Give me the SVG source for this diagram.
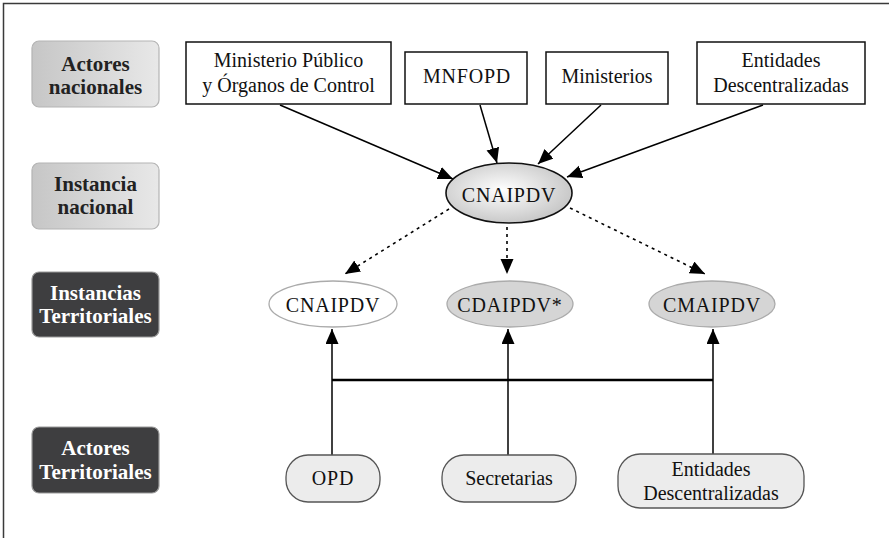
<svg xmlns="http://www.w3.org/2000/svg" width="889" height="538" viewBox="0 0 889 538">
<style>
.frame{fill:none;stroke:#3a3a3a;stroke-width:1.5}
.lbl-light{fill:url(#gLight);stroke:#b4b4b4;stroke-width:1.2}
.lbl-dark{fill:#3e3e40;stroke:#9a9a9a;stroke-width:1.2}
.lt{font-family:"Liberation Serif",serif;font-weight:bold;font-size:21px;text-anchor:middle}
.box{fill:#fff;stroke:#111;stroke-width:1.5}
.t{font-family:"Liberation Serif",serif;font-size:20px;text-anchor:middle;fill:#111}
.ac{letter-spacing:0.8px}
.ell2{stroke:#ababab;stroke-width:1.3}
.pill{fill:#ececec;stroke:#555;stroke-width:1.3}
.ln{stroke:#000;stroke-width:1.5;fill:none}
.dot{stroke:#000;stroke-width:1.6;fill:none;stroke-dasharray:3 4}
</style>
<defs>
<linearGradient id="gLight" x1="0" y1="0" x2="1" y2="0">
<stop offset="0" stop-color="#c6c6c6"/>
<stop offset="1" stop-color="#e8e8e8"/>
</linearGradient>
<radialGradient id="gMain" cx="0.45" cy="0.45" r="0.6">
<stop offset="0" stop-color="#ffffff"/>
<stop offset="1" stop-color="#c4c4c4"/>
</radialGradient>
<marker id="ah" markerUnits="userSpaceOnUse" markerWidth="16" markerHeight="14" refX="15" refY="6.5" orient="auto">
<path d="M0,0 L15,6.5 L0,13 z" fill="#000"/>
</marker>
</defs>
<rect class="frame" x="3.5" y="3.5" width="910" height="600"/>

<g id="lbl-actores-nacionales">
<rect class="lbl-light" x="32" y="41" width="127" height="66" rx="7"/>
<text class="lt" x="95.5" y="71" fill="#222">Actores</text>
<text class="lt" x="95.5" y="94" fill="#222">nacionales</text>
</g>
<g id="lbl-instancia-nacional">
<rect class="lbl-light" x="32" y="163" width="127" height="66" rx="7"/>
<text class="lt" x="95.5" y="191" fill="#222">Instancia</text>
<text class="lt" x="95.5" y="214" fill="#222">nacional</text>
</g>
<g id="lbl-instancias-territoriales">
<rect class="lbl-dark" x="32" y="272" width="127" height="65" rx="7"/>
<text class="lt" x="95.5" y="300" fill="#fff">Instancias</text>
<text class="lt" x="95.5" y="323" fill="#fff">Territoriales</text>
</g>
<g id="lbl-actores-territoriales">
<rect class="lbl-dark" x="32" y="427" width="127" height="66" rx="7"/>
<text class="lt" x="95.5" y="455" fill="#fff">Actores</text>
<text class="lt" x="95.5" y="479" fill="#fff">Territoriales</text>
</g>

<g id="connectors">
<line class="ln" x1="280" y1="105" x2="453" y2="179" marker-end="url(#ah)"/>
<line class="ln" x1="480" y1="105" x2="497" y2="163" marker-end="url(#ah)"/>
<line class="ln" x1="601" y1="105" x2="538" y2="164" marker-end="url(#ah)"/>
<line class="ln" x1="763" y1="105" x2="567" y2="177" marker-end="url(#ah)"/>
<line class="dot" x1="449" y1="209" x2="345" y2="274" marker-end="url(#ah)"/>
<line class="dot" x1="507" y1="227" x2="507" y2="274" marker-end="url(#ah)"/>
<line class="dot" x1="570" y1="208" x2="705" y2="274" marker-end="url(#ah)"/>
<line class="ln" x1="332" y1="455" x2="332" y2="329" marker-end="url(#ah)"/>
<line class="ln" x1="508" y1="455" x2="508" y2="329" marker-end="url(#ah)"/>
<line class="ln" x1="713" y1="455" x2="713" y2="329" marker-end="url(#ah)"/>
<line x1="332" y1="380" x2="713" y2="380" stroke="#000" stroke-width="2.6"/>
</g>

<g id="n-ministerio-publico">
<rect class="box" x="186" y="42" width="205" height="62"/>
<text class="t" x="288.5" y="67">Ministerio Público</text>
<text class="t" x="288.5" y="92">y Órganos de Control</text>
</g>
<g id="n-mnfopd">
<rect class="box" x="405" y="52" width="122" height="52"/>
<text class="t ac" x="467" y="83">MNFOPD</text>
</g>
<g id="n-ministerios">
<rect class="box" x="546" y="52" width="122" height="52"/>
<text class="t" x="607" y="83">Ministerios</text>
</g>
<g id="n-entidades-nac">
<rect class="box" x="697" y="42" width="168" height="62"/>
<text class="t" x="781" y="67">Entidades</text>
<text class="t" x="781" y="92">Descentralizadas</text>
</g>

<g id="n-cnaipdv-main">
<ellipse cx="509" cy="193" rx="63" ry="30" fill="url(#gMain)" stroke="#111" stroke-width="1.6"/>
<text class="t ac" x="509" y="202">CNAIPDV</text>
</g>
<g id="n-cnaipdv-terr">
<ellipse class="ell2" cx="333" cy="304" rx="64" ry="23" fill="#fff"/>
<text class="t ac" x="333" y="312">CNAIPDV</text>
</g>
<g id="n-cdaipdv">
<ellipse class="ell2" cx="510" cy="304" rx="63" ry="23" fill="#d5d5d5"/>
<text class="t ac" x="510" y="312">CDAIPDV*</text>
</g>
<g id="n-cmaipdv">
<ellipse class="ell2" cx="712" cy="304" rx="63" ry="23" fill="#d5d5d5"/>
<text class="t ac" x="712" y="312">CMAIPDV</text>
</g>

<g id="n-opd">
<rect class="pill" x="286" y="455" width="94" height="47" rx="22"/>
<text class="t ac" x="333" y="485">OPD</text>
</g>
<g id="n-secretarias">
<rect class="pill" x="442" y="455" width="134" height="47" rx="22"/>
<text class="t" x="509" y="485">Secretarias</text>
</g>
<g id="n-entidades-terr">
<rect class="pill" x="618" y="454" width="186" height="54" rx="22"/>
<text class="t" x="711" y="476">Entidades</text>
<text class="t" x="711" y="500">Descentralizadas</text>
</g>
</svg>
